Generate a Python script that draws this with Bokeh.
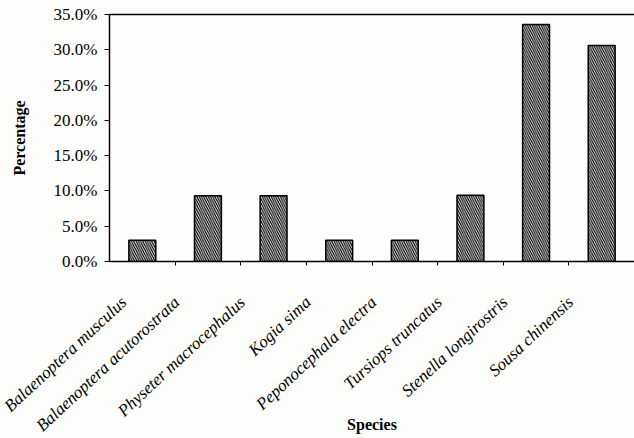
import math
from bokeh.plotting import figure
from bokeh.models import FixedTicker, PrintfTickFormatter, Range1d, LinearAxis
from bokeh.embed import file_html
from bokeh.resources import INLINE

species = [
    "Balaenoptera musculus",
    "Balaenoptera acutorostrata",
    "Physeter macrocephalus",
    "Kogia sima",
    "Peponocephala electra",
    "Tursiops truncatus",
    "Stenella longirostris",
    "Sousa chinensis",
]
percentages = [3.0, 9.3, 9.3, 3.0, 3.0, 9.4, 33.6, 30.6]
y_ticks = [0, 5, 10, 15, 20, 25, 30, 35]

FONT = "Liberation Serif"
W, H = 634, 438
LEFT, TOP, BOTTOM = 109, 14, 177
n = len(species)
xs = list(range(n))

# the category labels block sits a little left of the bars in the original
label_shift_px = 31
frame_w = W - LEFT
shift = label_shift_px * n / frame_w

p = figure(
    width=W, height=H,
    x_range=Range1d(-0.5, n - 0.5),
    y_range=Range1d(0, 35),
    output_backend="svg", toolbar_location=None,
    min_border_left=LEFT, min_border_right=0,
    min_border_top=TOP, min_border_bottom=BOTTOM,
)
p.extra_x_ranges = {"labels": Range1d(-0.5 + shift, n - 0.5 + shift)}
p.background_fill_color = "#fdfdfb"
p.border_fill_color = "#fdfdfb"
p.outline_line_color = None
p.xgrid.visible = False
p.ygrid.visible = False

p.vbar(x=xs, top=percentages, width=0.41, fill_color="white",
       line_color="black", line_width=1.5,
       hatch_pattern="left_diagonal_line", hatch_scale=4.5,
       hatch_weight=1.2, hatch_color="black")

# main x axis: only the tick marks between categories
p.xaxis.ticker = FixedTicker(ticks=[], minor_ticks=[i + 0.5 for i in xs[:-1]])
p.xaxis.major_tick_in = 0
p.xaxis.major_tick_out = 0
p.xaxis.minor_tick_in = 0
p.xaxis.minor_tick_out = 4
p.xaxis.minor_tick_line_color = "black"
p.xaxis.axis_line_color = "black"
p.xaxis.axis_line_width = 1.5
p.xaxis.major_label_standoff = 0

# category label axis
lab_axis = LinearAxis(
    x_range_name="labels",
    ticker=FixedTicker(ticks=xs),
    major_label_overrides={i: s for i, s in enumerate(species)},
    axis_line_color=None,
    major_tick_line_color=None,
    minor_tick_line_color=None,
    major_tick_in=0, major_tick_out=0,
    major_label_orientation=math.radians(43),
    major_label_standoff=34,
    major_label_text_font=FONT,
    major_label_text_font_style="italic",
    major_label_text_font_size="17px",
    major_label_text_color="black",
    axis_label="Species",
    axis_label_text_font=FONT,
    axis_label_text_font_style="bold",
    axis_label_text_font_size="16px",
    axis_label_text_color="black",
    axis_label_standoff=-29,
)
p.add_layout(lab_axis, "below")

# top border line
top_axis = LinearAxis(
    ticker=FixedTicker(ticks=[]),
    axis_line_color="black", axis_line_width=1.5,
    major_tick_line_color=None, minor_tick_line_color=None,
    major_label_text_font_size="0px",
)
p.add_layout(top_axis, "above")

# y axis
p.yaxis.ticker = FixedTicker(ticks=y_ticks)
p.yaxis.formatter = PrintfTickFormatter(format="%.1f%%")
p.yaxis.minor_tick_line_color = None
p.yaxis.major_tick_in = 0
p.yaxis.major_tick_out = 5
p.yaxis.major_tick_line_color = "black"
p.yaxis.axis_line_color = "black"
p.yaxis.axis_line_width = 1.5
p.yaxis.major_label_standoff = 7
p.yaxis.major_label_text_font = FONT
p.yaxis.major_label_text_font_size = "17px"
p.yaxis.major_label_text_color = "black"
p.yaxis.axis_label = "Percentage"
p.yaxis.axis_label_text_font = FONT
p.yaxis.axis_label_text_font_style = "bold"
p.yaxis.axis_label_text_font_size = "16px"
p.yaxis.axis_label_text_color = "black"
p.yaxis.axis_label_standoff = 23

open("out.html", "w").write(file_html(p, INLINE))
